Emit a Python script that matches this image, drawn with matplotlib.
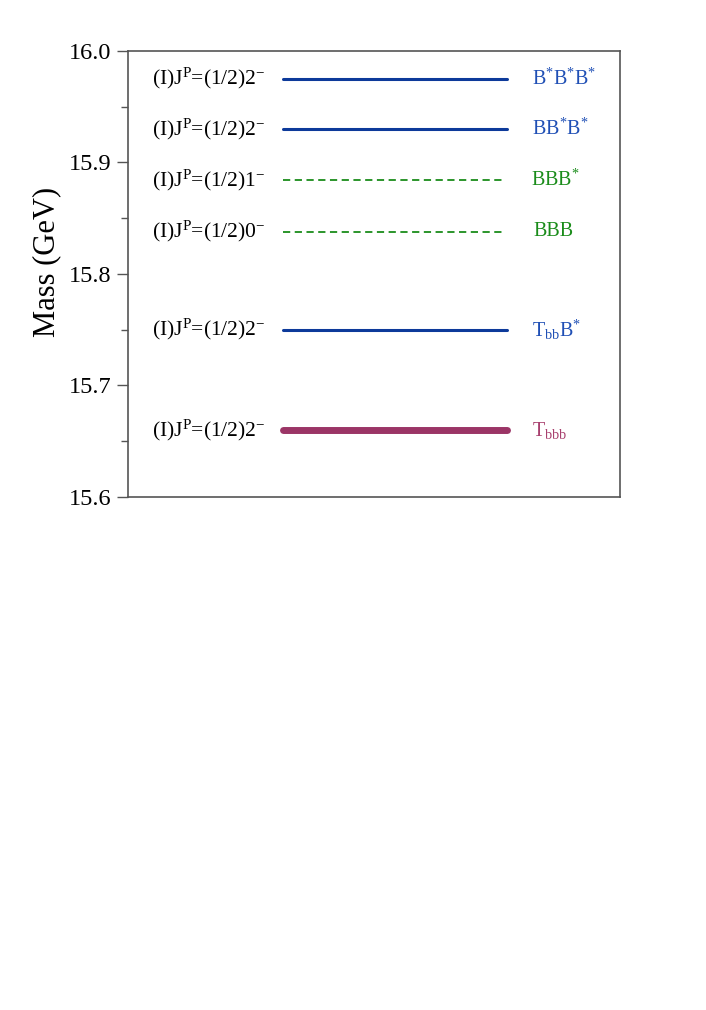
import matplotlib
matplotlib.use('Agg')
import matplotlib.pyplot as plt
from matplotlib.ticker import MultipleLocator

plt.rcParams['font.family'] = ['Liberation Serif', 'DejaVu Serif']
plt.rcParams['mathtext.fontset'] = 'custom'
plt.rcParams['mathtext.rm'] = 'Liberation Serif'
plt.rcParams['mathtext.it'] = 'Liberation Serif:italic'

# levels (GeV)
masses = [15.975, 15.930, 15.884, 15.838, 15.750, 15.660]
left_labels = [r'(I)J$^{\rm P}$=(1/2)2$^{-}$', r'(I)J$^{\rm P}$=(1/2)2$^{-}$',
               r'(I)J$^{\rm P}$=(1/2)1$^{-}$', r'(I)J$^{\rm P}$=(1/2)0$^{-}$',
               r'(I)J$^{\rm P}$=(1/2)2$^{-}$', r'(I)J$^{\rm P}$=(1/2)2$^{-}$']
right_labels = [r'B$^{*}$B$^{*}$B$^{*}$', r'BB$^{*}$B$^{*}$', r'BBB$^{*}$', 'BBB',
                r'T$_{\rm bb}$B$^{*}$', r'T$_{\rm bbb}$']
line_colors = ['#0d3a9a', '#0d3a9a', '#1a8c1a', '#1a8c1a', '#0d3a9a', '#9b3566']
text_colors = ['#1f4fb5', '#1f4fb5', '#1a8c1a', '#1a8c1a', '#1f4fb5', '#a8406e']
styles = ['-', '-', '--', '--', '-', '-']
widths = [2.2, 2.2, 1.3, 1.3, 2.2, 5.0]
x_end = [0.77, 0.77, 0.76, 0.76, 0.77, 0.77]
x_right_text = [0.821, 0.821, 0.819, 0.824, 0.821, 0.821]

fig = plt.figure(figsize=(7.06, 10.1), dpi=100)
ax = fig.add_axes([0.181, 0.508, 0.697, 0.4415])

for m, ll, rl, lc, tc, st, lw, xe, xr in zip(masses, left_labels, right_labels,
                                             line_colors, text_colors, styles,
                                             widths, x_end, x_right_text):
    ax.plot([0.315, xe], [m, m], color=lc, linestyle=st, linewidth=lw,
            solid_capstyle='round', dashes=(4, 2.5) if st == '--' else (None, None))
    ax.text(0.05, m, ll, fontsize=15.5, va='center', ha='left', color='black')
    ax.text(xr, m, rl, fontsize=14.5, va='center', ha='left', color=tc)

ax.set_xlim(0, 1)
ax.set_ylim(15.6, 16.0)
ax.yaxis.set_major_locator(MultipleLocator(0.1))
ax.yaxis.set_minor_locator(MultipleLocator(0.05))
ax.yaxis.set_major_formatter(matplotlib.ticker.FormatStrFormatter('%.1f'))
ax.set_xticks([])
ax.tick_params(axis='y', which='major', length=8, width=1, color='#555555',
               labelsize=17.5, pad=4)
ax.tick_params(axis='y', which='minor', length=5, width=1, color='#555555')
for s in ax.spines.values():
    s.set_color('#555555')
    s.set_linewidth(1.2)
ax.set_ylabel('Mass (GeV)', fontsize=22, labelpad=5, y=0.527)

fig.savefig('out.png', dpi=100)
